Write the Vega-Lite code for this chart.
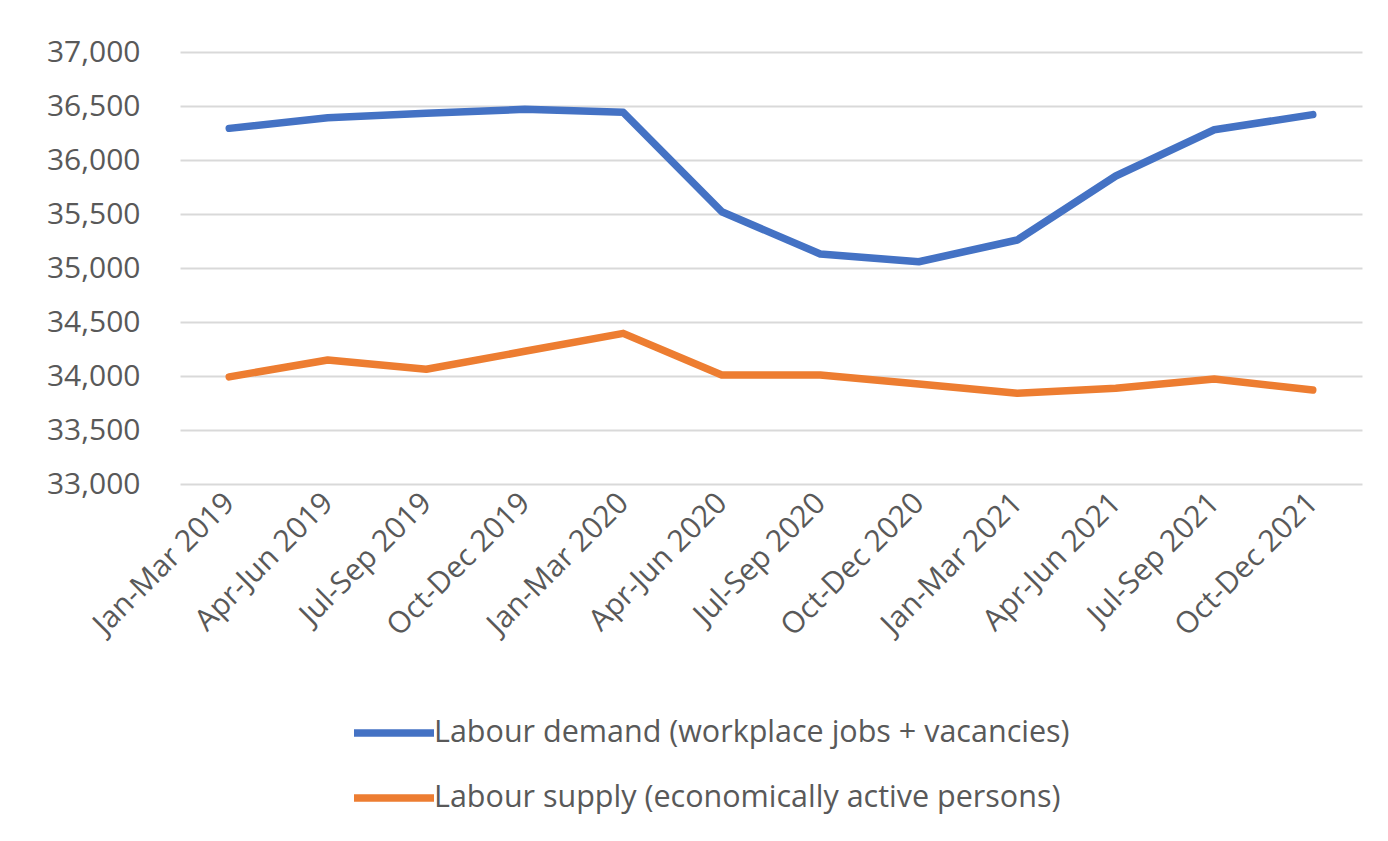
{
  "$schema": "https://vega.github.io/schema/vega-lite/v6.json",
  "width": 1182,
  "height": 432,
  "autosize": {"type": "none"},
  "padding": {"left": 180, "top": 52, "right": 26, "bottom": 357},
  "background": "white",
  "config": {
    "font": "Open Sans",
    "view": {"stroke": null},
    "axis": {"labelColor": "#595959", "labelFont": "Open Sans"},
    "legend": {"labelColor": "#595959", "labelFont": "Open Sans"}
  },
  "data": {
    "values": [
      {"period": "Jan-Mar 2019", "series": "Labour demand (workplace jobs + vacancies)", "value": 36293},
      {"period": "Apr-Jun 2019", "series": "Labour demand (workplace jobs + vacancies)", "value": 36392},
      {"period": "Jul-Sep 2019", "series": "Labour demand (workplace jobs + vacancies)", "value": 36432},
      {"period": "Oct-Dec 2019", "series": "Labour demand (workplace jobs + vacancies)", "value": 36469},
      {"period": "Jan-Mar 2020", "series": "Labour demand (workplace jobs + vacancies)", "value": 36442},
      {"period": "Apr-Jun 2020", "series": "Labour demand (workplace jobs + vacancies)", "value": 35521},
      {"period": "Jul-Sep 2020", "series": "Labour demand (workplace jobs + vacancies)", "value": 35130},
      {"period": "Oct-Dec 2020", "series": "Labour demand (workplace jobs + vacancies)", "value": 35058},
      {"period": "Jan-Mar 2021", "series": "Labour demand (workplace jobs + vacancies)", "value": 35259},
      {"period": "Apr-Jun 2021", "series": "Labour demand (workplace jobs + vacancies)", "value": 35852},
      {"period": "Jul-Sep 2021", "series": "Labour demand (workplace jobs + vacancies)", "value": 36280},
      {"period": "Oct-Dec 2021", "series": "Labour demand (workplace jobs + vacancies)", "value": 36420},
      {"period": "Jan-Mar 2019", "series": "Labour supply (economically active persons)", "value": 33992},
      {"period": "Apr-Jun 2019", "series": "Labour supply (economically active persons)", "value": 34148},
      {"period": "Jul-Sep 2019", "series": "Labour supply (economically active persons)", "value": 34062},
      {"period": "Oct-Dec 2019", "series": "Labour supply (economically active persons)", "value": 34229},
      {"period": "Jan-Mar 2020", "series": "Labour supply (economically active persons)", "value": 34395},
      {"period": "Apr-Jun 2020", "series": "Labour supply (economically active persons)", "value": 34009},
      {"period": "Jul-Sep 2020", "series": "Labour supply (economically active persons)", "value": 34009},
      {"period": "Oct-Dec 2020", "series": "Labour supply (economically active persons)", "value": 33926},
      {"period": "Jan-Mar 2021", "series": "Labour supply (economically active persons)", "value": 33840},
      {"period": "Apr-Jun 2021", "series": "Labour supply (economically active persons)", "value": 33886},
      {"period": "Jul-Sep 2021", "series": "Labour supply (economically active persons)", "value": 33972},
      {"period": "Oct-Dec 2021", "series": "Labour supply (economically active persons)", "value": 33870}
    ]
  },
  "mark": {"type": "line", "strokeWidth": 7.5, "strokeCap": "round", "strokeJoin": "round"},
  "encoding": {
    "x": {
      "field": "period",
      "type": "ordinal",
      "sort": null,
      "scale": {"type": "point", "padding": 0.5},
      "axis": {
        "title": null,
        "domain": false,
        "ticks": false,
        "grid": false,
        "labelAngle": -45,
        "labelAlign": "right",
        "labelBaseline": "middle",
        "labelFontSize": 30,
        "labelPadding": 14,
        "labelLimit": 0
      }
    },
    "y": {
      "field": "value",
      "type": "quantitative",
      "scale": {"domain": [33000, 37000], "nice": false, "zero": false},
      "axis": {
        "title": null,
        "values": [33000, 33500, 34000, 34500, 35000, 35500, 36000, 36500, 37000],
        "format": ",d",
        "domain": false,
        "ticks": false,
        "grid": true,
        "gridColor": "#D9D9D9",
        "gridWidth": 2,
        "labelFontSize": 30,
        "labelPadding": 40
      }
    },
    "color": {
      "field": "series",
      "type": "nominal",
      "scale": {
        "domain": ["Labour demand (workplace jobs + vacancies)", "Labour supply (economically active persons)"],
        "range": ["#4472C4", "#ED7D31"]
      },
      "legend": {
        "title": null,
        "orient": "none",
        "legendX": 170,
        "legendY": 637,
        "direction": "vertical",
        "symbolType": "stroke",
        "symbolSize": 6400,
        "symbolStrokeWidth": 7.5,
        "labelFontSize": 30.5,
        "labelOffset": -4,
        "rowPadding": 5,
        "labelLimit": 0
      }
    }
  }
}
